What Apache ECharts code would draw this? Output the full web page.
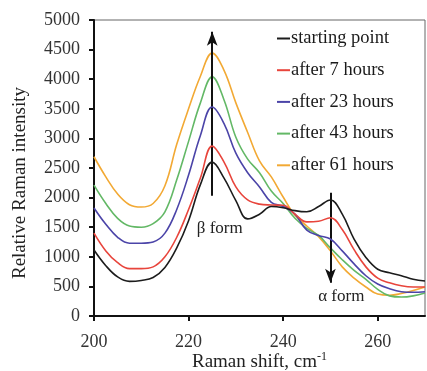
<!DOCTYPE html>
<html>
<head>
<meta charset="utf-8">
<script src="https://cdn.jsdelivr.net/npm/echarts@6/dist/echarts.min.js"></script>
<style>
  html, body { margin: 0; padding: 0; background: #fff; }
  #chart { width: 427px; height: 371px; }
</style>
</head>
<body>
<div id="chart"></div>
<script>
// Raman shift (cm^-1) sample positions
const shifts = [200, 202.5, 205, 207.5, 210, 212.5, 215, 217.5, 220, 222.5, 225, 227.5, 230, 232.5,
  235, 237.5, 240, 242.5, 245, 247.5, 250, 252.5, 255, 257.5, 260, 262.5, 265, 267.5, 270];

// Relative Raman intensity for each time point
const startingPoint = [1115, 850, 660, 585, 600, 650, 820, 1150, 1610, 2220, 2600, 2330, 1950, 1640,
  1720, 1850, 1830, 1780, 1760, 1850, 1960, 1720, 1300, 990, 790, 730, 680, 620, 590];
const after7h = [1400, 1100, 900, 800, 800, 830, 1000, 1330, 1800, 2330, 2870, 2600, 2180, 1960,
  1890, 1875, 1870, 1720, 1590, 1600, 1660, 1460, 1120, 830, 640, 560, 510, 490, 490];
const after23h = [1825, 1550, 1330, 1230, 1230, 1250, 1400, 1800, 2380, 3050, 3530, 3250, 2750, 2420,
  2180, 1920, 1850, 1720, 1450, 1360, 1300, 1100, 880, 680, 540, 460, 410, 400, 410];
const after43h = [2210, 1900, 1650, 1520, 1500, 1560, 1760, 2300, 2950, 3600, 4040, 3650, 3020, 2650,
  2420, 2110, 1900, 1650, 1480, 1360, 1150, 950, 770, 620, 450, 340, 320, 340, 390];
const after61h = [2690, 2350, 2060, 1880, 1840, 1900, 2200, 2900, 3500, 4050, 4440, 4150, 3600, 3100,
  2620, 2350, 2010, 1700, 1520, 1340, 1100, 830, 640, 490, 370, 350, 380, 430, 490];

const seriesNames = ['starting point', 'after 7 hours', 'after 23 hours', 'after 43 hours', 'after 61 hours'];
const seriesValues = [startingPoint, after7h, after23h, after43h, after61h];
const seriesColors = ['#1c1c1c', '#e8453c', '#4b44a8', '#63b866', '#f2a934'];

// Annotation arrows: growth of the beta band, decay of the alpha band
const betaArrow = [[225, 2030], [225, 4800]];
const alphaArrow = [[250, 2080], [250, 560]];
const betaLabel = { text: 'β form', at: [226.6, 1485] };
const alphaLabel = { text: 'α form', at: [252.3, 330] };

const serif = '"Liberation Serif", "Times New Roman", serif';

const chart = echarts.init(document.getElementById('chart'), null, { renderer: 'canvas' });

const series = seriesNames.map((name, i) => ({
  name: name,
  type: 'line',
  smooth: 0.4,
  symbol: 'none',
  data: shifts.map((x, j) => [x, seriesValues[i][j]]),
  lineStyle: { color: seriesColors[i], width: 1.6 },
  itemStyle: { color: seriesColors[i] },
  z: 2 + (seriesNames.length - i)
}));

// Arrows and their captions ride on a blank helper series
series.push({
  name: 'annotations',
  type: 'line',
  data: [],
  silent: true,
  z: 10,
  markLine: {
    silent: true,
    symbol: ['none', 'arrow'],
    symbolSize: [8, 14],
    label: { show: false },
    lineStyle: { color: '#111', width: 2, type: 'solid' },
    data: [
      [{ coord: betaArrow[0] }, { coord: betaArrow[1] }],
      [{ coord: alphaArrow[0] }, { coord: alphaArrow[1] }]
    ]
  },
  markPoint: {
    silent: true,
    symbol: 'circle',
    symbolSize: 1,
    itemStyle: { color: 'rgba(0,0,0,0)' },
    label: {
      show: true,
      position: 'inside',
      fontFamily: serif,
      fontSize: 17,
      color: '#222'
    },
    data: [
      { coord: betaLabel.at, label: { formatter: betaLabel.text } },
      { coord: alphaLabel.at, label: { formatter: alphaLabel.text } }
    ]
  }
});

chart.setOption({
  animation: false,
  backgroundColor: '#fff',
  grid: {
    left: 94, right: 2, top: 20, bottom: 55,
    outerBoundsMode: 'none',
    containLabel: false,
    show: true, borderColor: '#666', borderWidth: 1, backgroundColor: 'transparent'
  },
  legend: {
    data: seriesNames,
    orient: 'vertical',
    left: 277,
    top: 29,
    padding: 0,
    itemWidth: 13,
    itemHeight: 2,
    itemGap: 12.7,
    icon: 'rect',
    textStyle: { fontFamily: serif, fontSize: 18.5, color: '#1a1a1a', padding: [0, 0, 0, -4] }
  },
  xAxis: {
    type: 'value',
    min: 200, max: 270, interval: 20,
    name: 'Raman shift, cm{sup|-1}',
    nameLocation: 'middle',
    nameGap: 35,
    nameMoveOverlap: false,
    nameTextStyle: {
      fontFamily: serif, fontSize: 19, color: '#222',
      rich: { sup: { fontFamily: serif, fontSize: 12, color: '#222', padding: [0, 0, 10, 0] } }
    },
    axisLine: { lineStyle: { color: '#111', width: 2 } },
    axisTick: { inside: false, length: 5, lineStyle: { color: '#111', width: 2 } },
    axisLabel: { fontFamily: serif, fontSize: 18, color: '#333', margin: 17, showMaxLabel: false },
    splitLine: { show: false }
  },
  yAxis: {
    type: 'value',
    min: 0, max: 5000, interval: 500,
    name: 'Relative Raman intensity',
    nameLocation: 'middle',
    nameGap: 64,
    nameMoveOverlap: false,
    nameTextStyle: { fontFamily: serif, fontSize: 19, color: '#222', padding: [0, 30, 0, 0] },
    axisLine: { show: true, lineStyle: { color: '#111', width: 2 } },
    axisTick: { show: true, inside: false, length: 5, lineStyle: { color: '#111', width: 2 } },
    axisLabel: { fontFamily: serif, fontSize: 18, color: '#333', margin: 14, formatter: v => String(v) },
    splitLine: { show: false }
  },
  series: series
});
</script>
</body>
</html>
